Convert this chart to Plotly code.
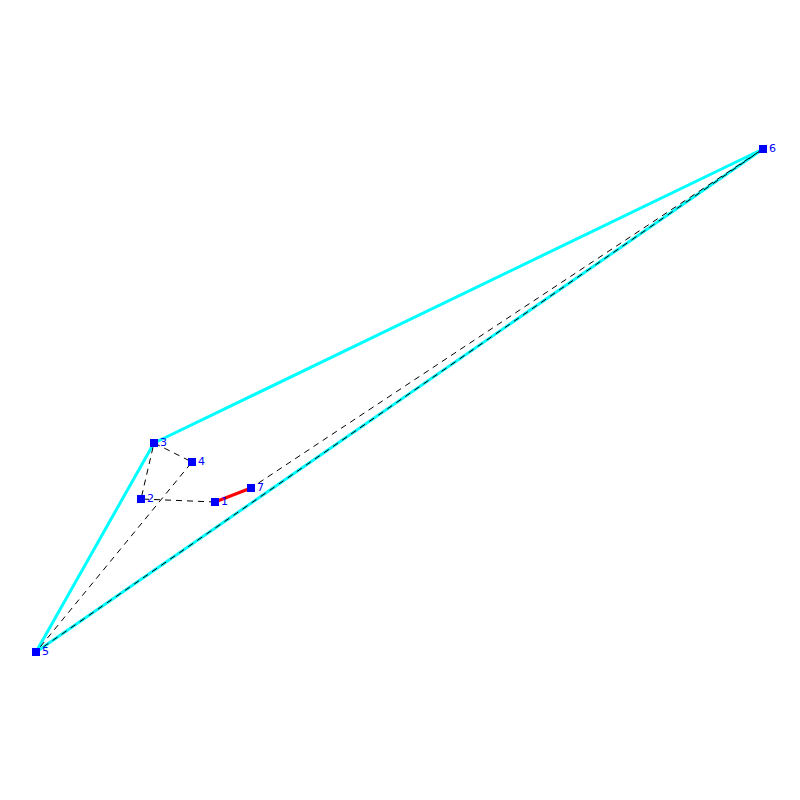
import plotly.graph_objects as go

# Node positions
node_ids = [1, 2, 3, 4, 5, 6, 7]
node_x = [215, 141, 154, 192, 36, 763, 251]
node_y = [502, 499, 443, 462, 652, 149, 488]

# Edges as node ids
hull_path = [3, 5, 6, 3]
tour_path = [1, 2, 3, 4, 5, 6, 7]
best_path = [1, 7]


def path_coords(path):
    xs = [node_x[node_ids.index(n)] for n in path]
    ys = [node_y[node_ids.index(n)] for n in path]
    return xs, ys


fig = go.Figure()

# Cyan outer hull
xs, ys = path_coords(hull_path)
fig.add_trace(go.Scatter(x=xs, y=ys, mode='lines', line=dict(color='#00ffff', width=3)))

# Black dashed tour
xs, ys = path_coords(tour_path)
fig.add_trace(go.Scatter(x=xs, y=ys, mode='lines', line=dict(color='black', width=1, dash='6px,5px')))

# Red closing edge
xs, ys = path_coords(best_path)
fig.add_trace(go.Scatter(x=xs, y=ys, mode='lines', line=dict(color='#ff0000', width=3)))

# Nodes and their labels
fig.add_trace(go.Scatter(
    x=node_x,
    y=node_y,
    mode='markers+text',
    marker=dict(symbol='square', size=8, color='#0000ff'),
    text=[str(n) for n in node_ids],
    textposition='middle right',
    textfont=dict(family='DejaVu Sans', size=11, color='#0000ff'),
    cliponaxis=False
))

fig.update_layout(
    width=800,
    height=800,
    margin=dict(l=0, r=0, t=0, b=0),
    showlegend=False,
    paper_bgcolor='white',
    plot_bgcolor='white'
)
fig.update_xaxes(range=[0, 800], visible=False)
fig.update_yaxes(range=[800, 0], visible=False)

# The page's default body margin would push the chart 8px off
fig.write_html(
    "out.html",
    config=dict(displayModeBar=False),
    post_script="document.body.style.margin = '0';"
)
